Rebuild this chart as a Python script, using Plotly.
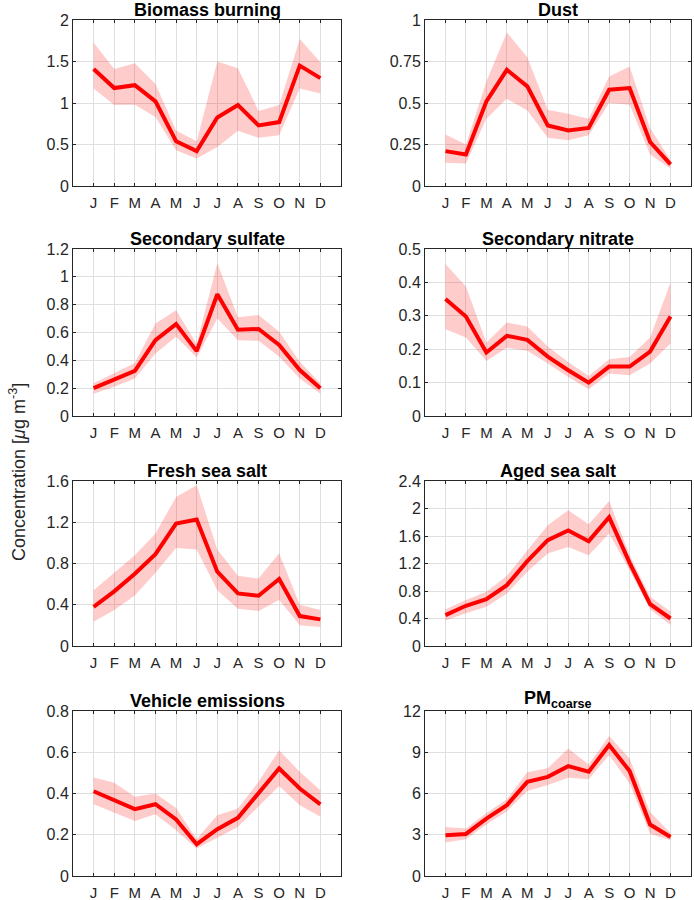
import plotly.graph_objects as go

months = ["J", "F", "M", "A", "M", "J", "J", "A", "S", "O", "N", "D"]
month_idx = list(range(1, 13))

titles = ["Biomass burning", "Dust", "Secondary sulfate", "Secondary nitrate",
          "Fresh sea salt", "Aged sea salt", "Vehicle emissions", "PM<sub>coarse</sub>"]

biomass_mean = [1.41, 1.18, 1.215, 1.02, 0.54, 0.42, 0.825, 0.975, 0.73, 0.77, 1.45, 1.30]
biomass_upper = [1.73, 1.41, 1.48, 1.23, 0.67, 0.54, 1.50, 1.42, 0.905, 0.975, 1.77, 1.49]
biomass_lower = [1.175, 0.975, 0.98, 0.83, 0.43, 0.33, 0.47, 0.665, 0.58, 0.61, 1.175, 1.115]

dust_mean = [0.21, 0.19, 0.51, 0.70, 0.60, 0.365, 0.335, 0.35, 0.58, 0.59, 0.265, 0.13]
dust_upper = [0.31, 0.25, 0.63, 0.925, 0.775, 0.46, 0.435, 0.405, 0.66, 0.72, 0.35, 0.155]
dust_lower = [0.14, 0.135, 0.405, 0.525, 0.455, 0.29, 0.275, 0.305, 0.50, 0.49, 0.19, 0.105]

sulfate_mean = [0.20, 0.26, 0.325, 0.545, 0.66, 0.466, 0.875, 0.62, 0.625, 0.51, 0.33, 0.20]
sulfate_upper = [0.235, 0.305, 0.38, 0.665, 0.76, 0.52, 1.10, 0.71, 0.725, 0.605, 0.39, 0.235]
sulfate_lower = [0.16, 0.21, 0.27, 0.45, 0.57, 0.42, 0.70, 0.545, 0.54, 0.425, 0.27, 0.16]

nitrate_mean = [0.35, 0.298, 0.19, 0.24, 0.228, 0.178, 0.137, 0.10, 0.148, 0.148, 0.193, 0.298]
nitrate_upper = [0.455, 0.388, 0.22, 0.28, 0.268, 0.208, 0.162, 0.12, 0.17, 0.177, 0.235, 0.40]
nitrate_lower = [0.26, 0.235, 0.165, 0.204, 0.195, 0.157, 0.117, 0.08, 0.127, 0.122, 0.157, 0.217]

fresh_mean = [0.38, 0.53, 0.70, 0.89, 1.187, 1.226, 0.72, 0.51, 0.487, 0.65, 0.29, 0.258]
fresh_upper = [0.54, 0.71, 0.88, 1.09, 1.445, 1.56, 0.935, 0.68, 0.655, 0.90, 0.40, 0.35]
fresh_lower = [0.235, 0.35, 0.49, 0.71, 0.95, 0.935, 0.54, 0.36, 0.34, 0.445, 0.20, 0.185]

aged_mean = [0.45, 0.585, 0.68, 0.885, 1.235, 1.54, 1.68, 1.525, 1.875, 1.21, 0.61, 0.40]
aged_upper = [0.535, 0.67, 0.79, 1.02, 1.39, 1.755, 1.975, 1.77, 2.11, 1.32, 0.715, 0.50]
aged_lower = [0.37, 0.475, 0.57, 0.765, 1.08, 1.345, 1.44, 1.32, 1.635, 1.10, 0.535, 0.305]

vehicle_mean = [0.411, 0.368, 0.324, 0.348, 0.274, 0.154, 0.227, 0.282, 0.40, 0.521, 0.424, 0.347]
vehicle_upper = [0.478, 0.452, 0.384, 0.40, 0.33, 0.18, 0.295, 0.327, 0.457, 0.61, 0.505, 0.416]
vehicle_lower = [0.348, 0.306, 0.267, 0.30, 0.222, 0.133, 0.185, 0.238, 0.335, 0.436, 0.343, 0.287]

pm_mean = [2.96, 3.06, 4.18, 5.15, 6.85, 7.21, 7.99, 7.58, 9.52, 7.63, 3.74, 2.84]
pm_upper = [3.57, 3.45, 4.59, 5.59, 7.55, 7.84, 9.28, 8.11, 10.18, 8.55, 4.66, 3.13]
pm_lower = [2.43, 2.67, 3.74, 4.71, 6.19, 6.61, 7.14, 7.04, 8.79, 6.73, 3.08, 2.60]

series = [
    (biomass_mean, biomass_upper, biomass_lower),
    (dust_mean, dust_upper, dust_lower),
    (sulfate_mean, sulfate_upper, sulfate_lower),
    (nitrate_mean, nitrate_upper, nitrate_lower),
    (fresh_mean, fresh_upper, fresh_lower),
    (aged_mean, aged_upper, aged_lower),
    (vehicle_mean, vehicle_upper, vehicle_lower),
    (pm_mean, pm_upper, pm_lower),
]

y_ticks = [
    ([0, 0.5, 1, 1.5, 2], ["0", "0.5", "1", "1.5", "2"]),
    ([0, 0.25, 0.5, 0.75, 1], ["0", "0.25", "0.5", "0.75", "1"]),
    ([0, 0.2, 0.4, 0.6, 0.8, 1, 1.2], ["0", "0.2", "0.4", "0.6", "0.8", "1", "1.2"]),
    ([0, 0.1, 0.2, 0.3, 0.4, 0.5], ["0", "0.1", "0.2", "0.3", "0.4", "0.5"]),
    ([0, 0.4, 0.8, 1.2, 1.6], ["0", "0.4", "0.8", "1.2", "1.6"]),
    ([0, 0.4, 0.8, 1.2, 1.6, 2, 2.4], ["0", "0.4", "0.8", "1.2", "1.6", "2", "2.4"]),
    ([0, 0.2, 0.4, 0.6, 0.8], ["0", "0.2", "0.4", "0.6", "0.8"]),
    ([0, 3, 6, 9, 12], ["0", "3", "6", "9", "12"]),
]

W, H = 694, 900
col_x = [(73, 341), (425, 691)]
row_y = [(20, 186), (249, 416), (481, 646), (711, 876)]

FONT = "Liberation Sans, Arial, sans-serif"
AXC = "#262626"
GRID = "#dfdfdf"

fig = go.Figure()
layout = dict(
    width=W, height=H,
    margin=dict(l=0, r=0, t=0, b=0),
    paper_bgcolor="white", plot_bgcolor="white",
    showlegend=False,
    font=dict(family=FONT, size=15, color=AXC),
)
annotations = []

def px_x(v):
    return v / W

def px_y(v):
    return 1 - v / H

for i, (mean, up, lo) in enumerate(series):
    r, c = divmod(i, 2)
    n = i + 1
    xa = "x" if n == 1 else f"x{n}"
    ya = "y" if n == 1 else f"y{n}"
    fig.add_trace(go.Scatter(
        x=month_idx + month_idx[::-1], y=up + lo[::-1],
        fill="toself", fillcolor="rgba(255,0,0,0.2)",
        line=dict(width=0), mode="lines", hoverinfo="skip",
        xaxis=xa, yaxis=ya))
    fig.add_trace(go.Scatter(
        x=month_idx, y=mean, mode="lines",
        line=dict(color="#ff0000", width=4),
        xaxis=xa, yaxis=ya))
    x0, x1 = col_x[c]
    yt, yb = row_y[r]
    tv, tt = y_ticks[i]
    xd = [px_x(x0), px_x(x1)]
    yd = [px_y(yb), px_y(yt)]
    layout["xaxis" if n == 1 else f"xaxis{n}"] = dict(
        domain=xd, anchor=ya, range=[0, 13],
        tickmode="array", tickvals=month_idx, ticktext=months,
        showgrid=True, gridcolor=GRID, gridwidth=1,
        showline=True, linecolor=AXC, linewidth=1, mirror="ticks",
        ticks="inside", ticklen=3, tickcolor=AXC,
        tickfont=dict(size=15, color=AXC, family=FONT),
        ticklabelstandoff=3,
        zeroline=False, fixedrange=True, automargin=False,
    )
    layout["yaxis" if n == 1 else f"yaxis{n}"] = dict(
        domain=yd, anchor=xa, range=[tv[0], tv[-1]],
        tickmode="array", tickvals=tv, ticktext=tt,
        showgrid=True, gridcolor=GRID, gridwidth=1,
        showline=True, linecolor=AXC, linewidth=1, mirror="ticks",
        ticks="inside", ticklen=3, tickcolor=AXC,
        tickfont=dict(size=16, color=AXC, family=FONT),
        zeroline=False, fixedrange=True, automargin=False,
    )
    annotations.append(dict(
        text=f"<b>{titles[i]}</b>", xref="paper", yref="paper",
        x=(xd[0] + xd[1]) / 2, y=yd[1], xanchor="center", yanchor="bottom",
        yshift=-1, borderpad=0, showarrow=False,
        font=dict(size=18, color="black", family=FONT)))

annotations.append(dict(
    text="Concentration [<i>μ</i>g m<sup>-3</sup>]", xref="paper", yref="paper",
    x=px_x(17), y=px_y(472), xanchor="center", yanchor="middle",
    textangle=-90, showarrow=False,
    font=dict(size=18, color=AXC, family=FONT)))

layout["annotations"] = annotations
fig.update_layout(**layout)
fig.write_html(
    "out.html",
    config={"displayModeBar": False},
    post_script="document.body.style.margin='0';document.body.style.overflow='hidden';",
)
